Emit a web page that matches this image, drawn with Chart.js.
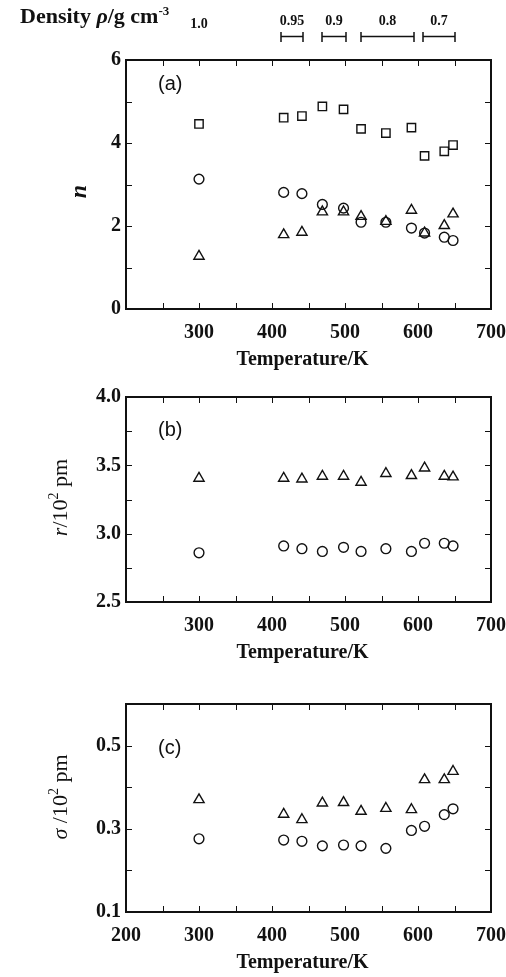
<!DOCTYPE html>
<html>
<head>
<meta charset="utf-8">
<title>Hydration vs temperature</title>
<script src="https://cdn.jsdelivr.net/npm/chart.js@4.4.1/dist/chart.umd.min.js"></script>
<style>
  body { margin: 0; background: #fff; }
  .wrap { position: relative; width: 506px; height: 977px; }
  canvas { position: absolute; left: 0; }
</style>
</head>
<body>
<div class="wrap">
  <canvas id="chartN" width="506" height="372" style="top:0"></canvas>
  <canvas id="chartR" width="506" height="300" style="top:372px"></canvas>
  <canvas id="chartS" width="506" height="305" style="top:672px"></canvas>
</div>
<script>
// temperatures (K) shared by all three panels
const temps = [300, 416, 441, 469, 498, 522, 556, 591, 609, 636, 648];

// (a) coordination numbers
const nSquare = [4.46, 4.61, 4.65, 4.88, 4.81, 4.34, 4.24, 4.37, 3.69, 3.80, 3.95];
const nCircle = [3.13, 2.81, 2.78, 2.52, 2.43, 2.09, 2.09, 1.95, 1.83, 1.73, 1.65];
const nTriangle = [1.27, 1.79, 1.85, 2.34, 2.34, 2.23, 2.11, 2.38, 1.83, 2.01, 2.29];

// (b) distances, 10^2 pm
const rTriangle = [3.405, 3.405, 3.40, 3.42, 3.42, 3.376, 3.44, 3.425, 3.48, 3.42, 3.415];
const rCircle = [2.86, 2.91, 2.89, 2.87, 2.90, 2.87, 2.89, 2.87, 2.93, 2.93, 2.91];

// (c) widths, 10^2 pm
const sTriangle = [0.370, 0.335, 0.322, 0.362, 0.363, 0.342, 0.349, 0.346, 0.418, 0.418, 0.438];
const sCircle = [0.276, 0.273, 0.270, 0.259, 0.261, 0.259, 0.253, 0.296, 0.306, 0.334, 0.348];

// density ranges (g cm^-3) over the temperature axis
const densityLabels = ["0.95", "0.9", "0.8", "0.7"];
const densityFrom = [412, 468, 522, 607];
const densityTo = [442, 502, 595, 650];
const roomDensityLabel = "1.0";
const roomDensityTemp = 300;

const SERIF = "'Liberation Serif', 'Times New Roman', serif";
const SANS = "'Liberation Sans', Arial, sans-serif";
const INK = "#111";

// draw a run of text pieces with their own fonts, starting at x
function drawPieces(ctx, pieces, x, y) {
  pieces.forEach((p) => {
    ctx.font = p.font;
    ctx.fillText(p.text, x, y - (p.rise || 0));
    x += ctx.measureText(p.text).width;
  });
}

function piecesWidth(ctx, pieces) {
  return pieces.reduce((w, p) => {
    ctx.font = p.font;
    return w + ctx.measureText(p.text).width;
  }, 0);
}

// box frame with inward ticks, panel tag and axis titles
const framePlugin = {
  id: "frame",
  afterDatasetsDraw(chart, args, opts) {
    const { ctx, chartArea: a, scales: { x, y } } = chart;
    ctx.save();
    ctx.strokeStyle = INK;
    ctx.fillStyle = INK;

    ctx.lineWidth = 1;
    ctx.beginPath();
    x.ticks.forEach((t) => {
      if (t.value <= x.min || t.value >= x.max) return;
      const px = Math.round(x.getPixelForValue(t.value)) + 0.5;
      ctx.moveTo(px, a.top); ctx.lineTo(px, a.top + 6);
      ctx.moveTo(px, a.bottom); ctx.lineTo(px, a.bottom - 6);
    });
    y.ticks.forEach((t) => {
      if (t.value <= y.min || t.value >= y.max) return;
      const py = Math.round(y.getPixelForValue(t.value)) + 0.5;
      ctx.moveTo(a.left, py); ctx.lineTo(a.left + 6, py);
      ctx.moveTo(a.right, py); ctx.lineTo(a.right - 6, py);
    });
    ctx.stroke();

    ctx.lineWidth = 2;
    ctx.strokeRect(a.left, a.top, a.right - a.left, a.bottom - a.top);

    ctx.textBaseline = "alphabetic";
    ctx.textAlign = "left";
    ctx.font = "20px " + SANS;
    ctx.fillText(opts.tag, a.left + 32, a.top + opts.tagY);

    ctx.textAlign = "center";
    ctx.font = "bold 20px " + SERIF;
    ctx.fillText("Temperature/K", (a.left + a.right) / 2 - 6, a.bottom + 56);

    // rotated y title
    ctx.textAlign = "left";
    ctx.translate(a.left - opts.titleX, (a.top + a.bottom) / 2 + opts.titleShift);
    ctx.rotate(-Math.PI / 2);
    const w = piecesWidth(ctx, opts.title);
    drawPieces(ctx, opts.title, -w / 2, 0);
    ctx.restore();
  }
};

// density ranges above panel (a), placed on its temperature scale
const densityPlugin = {
  id: "densityHeader",
  afterDraw(chart) {
    const { ctx, scales: { x } } = chart;
    ctx.save();
    ctx.fillStyle = INK;
    ctx.strokeStyle = INK;
    ctx.textBaseline = "alphabetic";
    ctx.textAlign = "left";
    drawPieces(ctx, [
      { text: "Density ", font: "bold 22px " + SERIF },
      { text: "\u03C1", font: "italic bold 22px " + SERIF },
      { text: "/g cm", font: "bold 22px " + SERIF },
      { text: "-3", font: "bold 13px " + SERIF, rise: 8 }
    ], 20, 23);

    ctx.textAlign = "center";
    ctx.font = "bold 14px " + SERIF;
    ctx.fillText(roomDensityLabel, x.getPixelForValue(roomDensityTemp), 28);

    ctx.lineWidth = 1.5;
    densityLabels.forEach((label, i) => {
      const x1 = Math.round(x.getPixelForValue(densityFrom[i]));
      const x2 = Math.round(x.getPixelForValue(densityTo[i]));
      ctx.fillText(label, (x1 + x2) / 2, 25);
      ctx.beginPath();
      ctx.moveTo(x1, 36.5); ctx.lineTo(x2, 36.5);
      ctx.moveTo(x1, 32); ctx.lineTo(x1, 42);
      ctx.moveTo(x2, 32); ctx.lineTo(x2, 42);
      ctx.stroke();
    });
    ctx.restore();
  }
};

function series(ys, style, radius) {
  return {
    data: temps.map((t, i) => ({ x: t, y: ys[i] })),
    pointStyle: style,
    pointRadius: radius,
    pointHoverRadius: radius,
    pointBorderWidth: 1.4,
    borderColor: INK,
    backgroundColor: "transparent",
    showLine: false
  };
}

const tickFont = { family: SERIF, size: 20, weight: "bold" };

function tempAxis(showFirst, height) {
  return {
    type: "linear",
    min: 200,
    max: 700,
    grid: { display: false, drawTicks: false },
    border: { display: false },
    ticks: {
      stepSize: 50,
      autoSkip: false,
      maxRotation: 0,
      padding: 12,
      color: INK,
      font: tickFont,
      callback: (v) => (v % 100 === 0 && (showFirst || v > 200) ? String(v) : "")
    },
    afterFit(s) {
      s.height = height;
      s.paddingLeft = 0;
      s.paddingRight = 0;
    }
  };
}

function valueAxis(min, max, step, label) {
  return {
    type: "linear",
    min: min,
    max: max,
    grid: { display: false, drawTicks: false },
    border: { display: false },
    ticks: { stepSize: step, autoSkip: false, padding: 5, color: INK, font: tickFont, callback: label },
    afterFit(s) {
      s.width = 126;
      s.paddingTop = 0;
      s.paddingBottom = 0;
    }
  };
}

function makeChart(id, datasets, xAxis, yAxis, top, frame, extra) {
  return new Chart(document.getElementById(id), {
    type: "scatter",
    data: { datasets: datasets },
    options: {
      responsive: false,
      animation: false,
      events: [],
      layout: { padding: { top: top, right: 15, left: 0, bottom: 0 } },
      scales: { x: xAxis, y: yAxis },
      plugins: { legend: { display: false }, tooltip: { enabled: false }, frame: frame }
    },
    plugins: [framePlugin].concat(extra || [])
  });
}

makeChart(
  "chartN",
  [series(nSquare, "rect", 5.9), series(nCircle, "circle", 4.9), series(nTriangle, "triangle", 5.9)],
  tempAxis(false, 63),
  valueAxis(0, 6, 1, (v) => (v % 2 === 0 ? String(v) : "")),
  60,
  {
    tag: "(a)", tagY: 30, titleX: 40, titleShift: 7,
    title: [{ text: "n", font: "italic bold 24px " + SERIF }]
  },
  [densityPlugin]
);

makeChart(
  "chartR",
  [series(rTriangle, "triangle", 5.9), series(rCircle, "circle", 4.9)],
  tempAxis(false, 70),
  valueAxis(2.5, 4, 0.25, (v) => (v % 0.5 === 0 ? v.toFixed(1) : "")),
  25,
  {
    tag: "(b)", tagY: 39, titleX: 59, titleShift: -2,
    title: [
      { text: "r", font: "italic 22px " + SERIF },
      { text: "/10", font: "22px " + SERIF },
      { text: "2", font: "14px " + SERIF, rise: 9 },
      { text: " pm", font: "22px " + SERIF }
    ]
  }
);

makeChart(
  "chartS",
  [series(sTriangle, "triangle", 5.9), series(sCircle, "circle", 4.9)],
  tempAxis(true, 65),
  valueAxis(0.1, 0.6, 0.1, (v) => (Math.round(v * 10) % 2 === 1 ? v.toFixed(1) : "")),
  32,
  {
    tag: "(c)", tagY: 50, titleX: 59, titleShift: -11,
    title: [
      { text: "\u03C3 ", font: "italic 22px " + SERIF },
      { text: "/10", font: "22px " + SERIF },
      { text: "2", font: "14px " + SERIF, rise: 9 },
      { text: " pm", font: "22px " + SERIF }
    ]
  }
);
</script>
</body>
</html>
